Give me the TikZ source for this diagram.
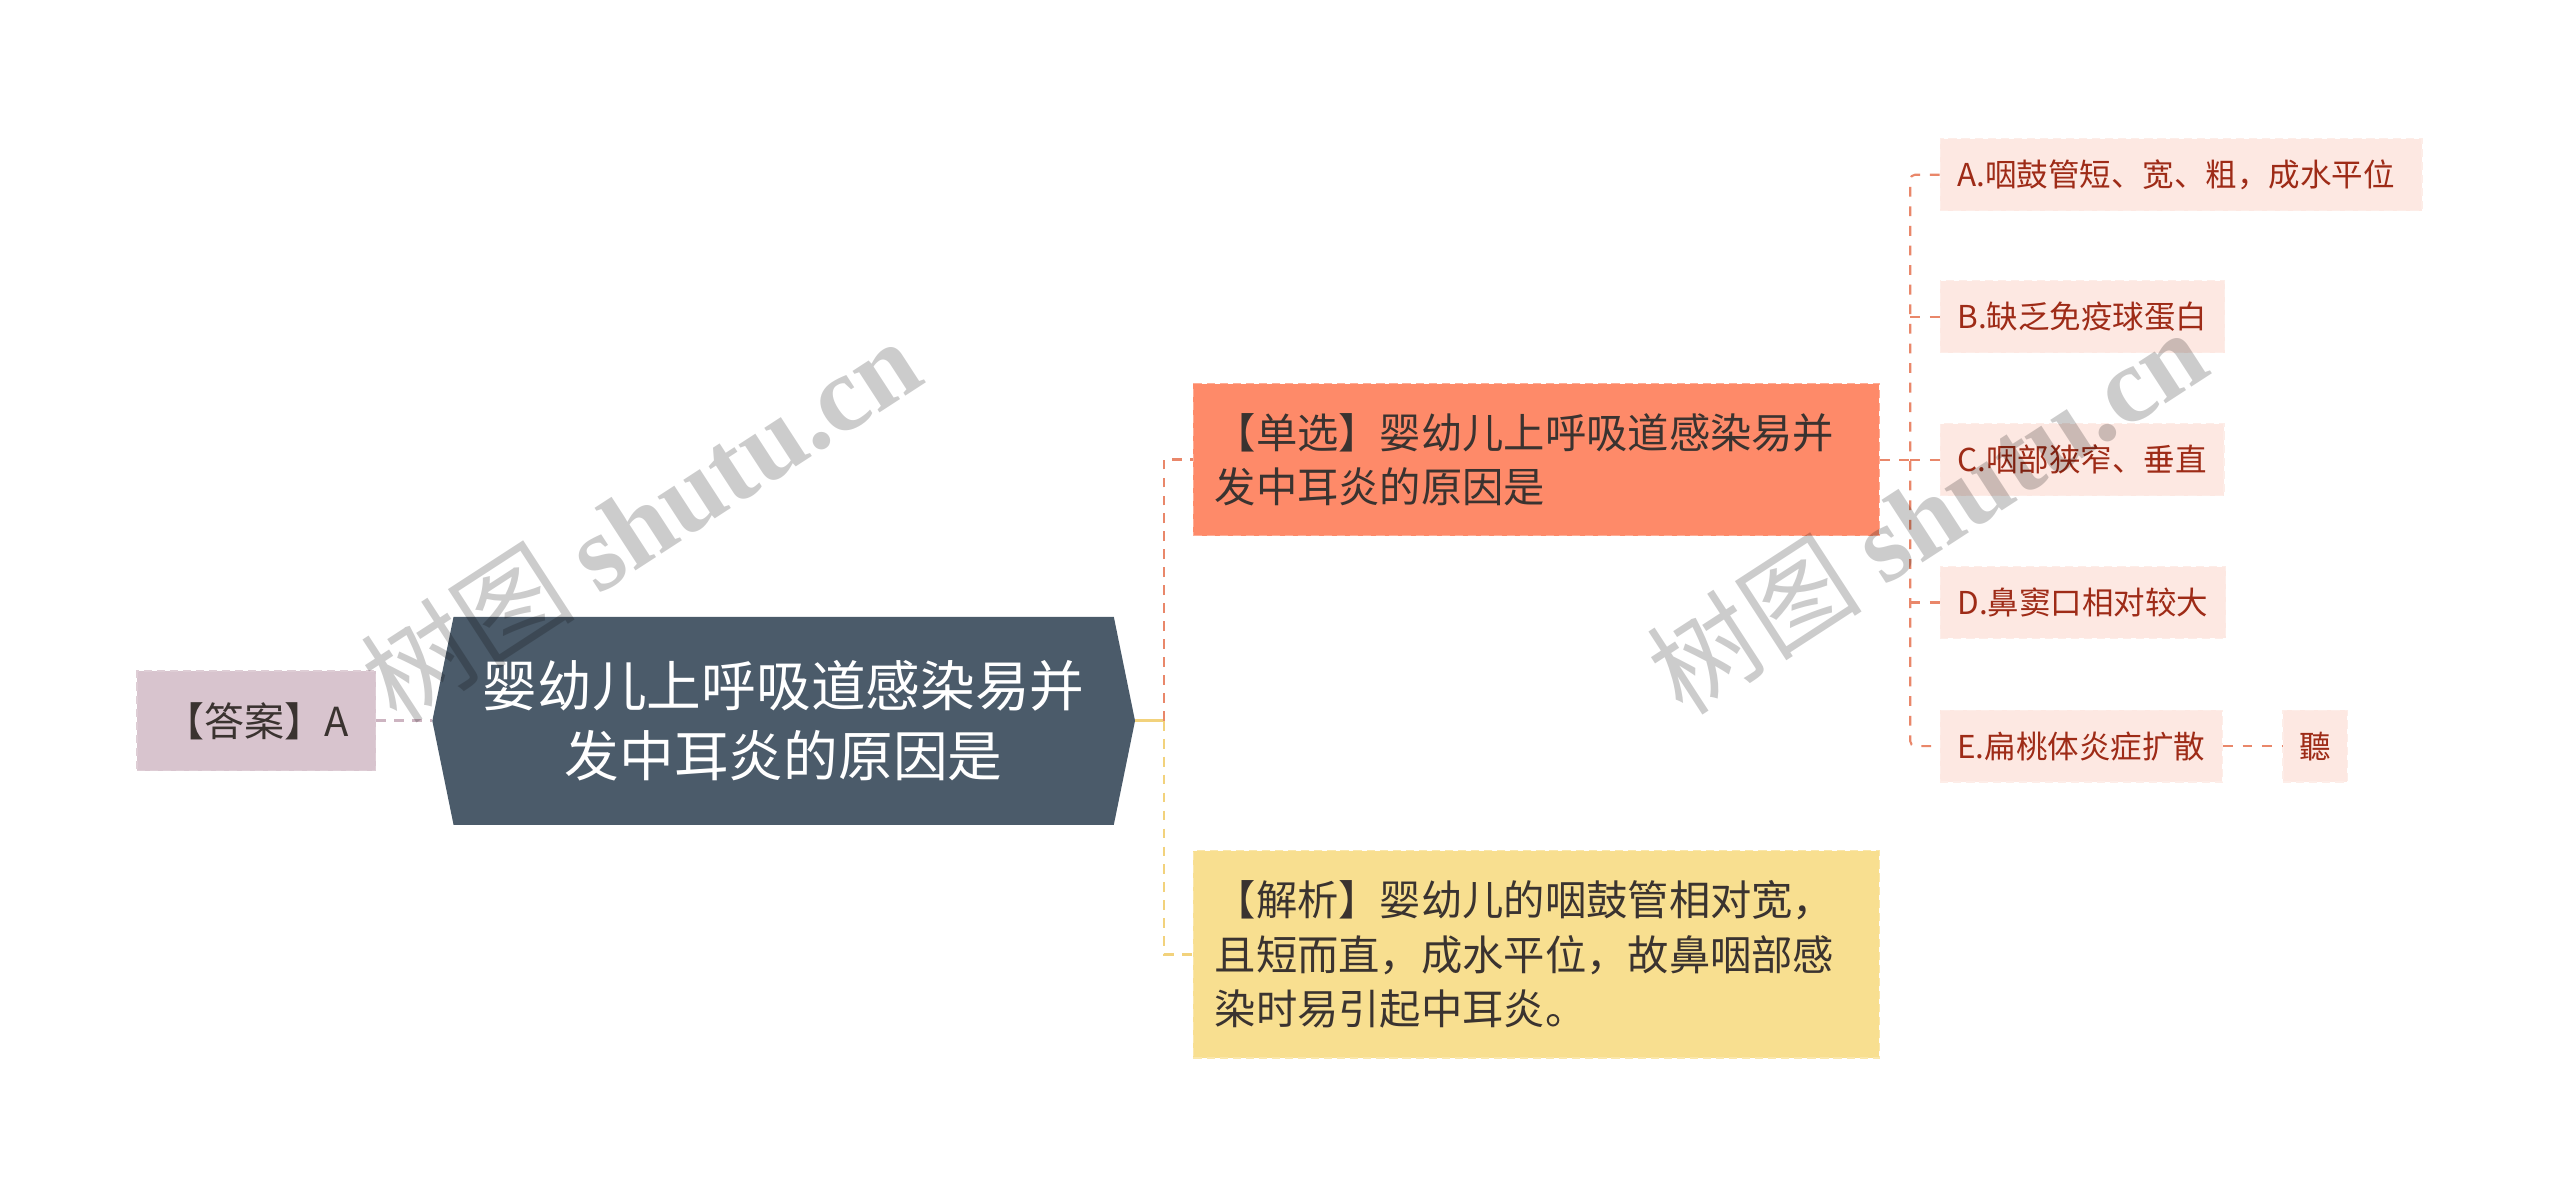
\documentclass[tikz,border=0pt]{standalone}
\usepackage{fontspec}
\newfontfamily\cjk{Noto Sans CJK SC}
\newfontfamily\wmserif{Liberation Serif}
\usetikzlibrary{backgrounds}
\definecolor{hubfill}{HTML}{4B5B6A}
\definecolor{ansfill}{HTML}{D8C4CE}
\definecolor{ansline}{HTML}{CDB4C1}
\definecolor{choicefill}{HTML}{FE8A69}
\definecolor{choiceline}{HTML}{E9876A}
\definecolor{anafill}{HTML}{F8DF90}
\definecolor{analine}{HTML}{F2D27C}
\definecolor{optfill}{HTML}{FDE8E2}
\definecolor{opttext}{HTML}{9E2B17}
\definecolor{darktext}{HTML}{3A3330}
\begin{document}
\begin{tikzpicture}[x=1pt,y=-1pt,
  boxbase/.style={rectangle, inner sep=0pt, dash pattern=on 5pt off 3pt, line width=0.8pt},
  ansbox/.style={boxbase, fill=ansfill, draw=ansfill!85!white, minimum width=146pt, minimum height=61pt,
    text=darktext, font=\cjk\fontsize{24.5}{30}\selectfont},
  hubtext/.style={rectangle, inner sep=0pt, minimum width=404pt, minimum height=127pt, align=center,
    text=white, font=\cjk\fontsize{33.5}{43}\selectfont},
  bigbox/.style={boxbase, minimum width=420pt, text width=394pt, align=left, text=darktext,
    font=\cjk\fontsize{25.3}{33.5}\selectfont},
  choicebox/.style={bigbox, fill=choicefill, draw=choicefill!70!white, minimum height=93pt},
  anabox/.style={bigbox, fill=anafill, draw=anafill!75!white, minimum height=127pt},
  optbox/.style={boxbase, fill=optfill, draw=optfill!80!white, minimum height=44pt, inner xsep=10.5pt,
    anchor=west, text=opttext, font=\cjk\fontsize{19.3}{22}\selectfont},
  conn/.style={line width=1.6pt, dash pattern=on 6pt off 5pt},
  ansconn/.style={conn, line width=2pt, draw=ansline},
  choiceconn/.style={conn, draw=choiceline},
  anaconn/.style={conn, draw=analine},
  optconn/.style={line width=1.3pt, dash pattern=on 6pt off 6pt, draw=choiceline},
  wmark/.style={text=black, text opacity=0.2, font=\cjk\fontsize{66}{68}\selectfont, rotate=33}
]
\useasboundingbox (0,0) rectangle (1568,733);

% nodes
\node[ansbox] (ans) at (157,441.5) {【答案】A};
\node[hubtext] (hub) at (480,441.5) {婴幼儿上呼吸道感染易并\\发中耳炎的原因是};
\coordinate (hubL) at ([xshift=-13pt]hub.west);
\coordinate (hubR) at ([xshift=13pt]hub.east);

\begin{pgfonlayer}{background}
  \fill[white] (0,0) rectangle (1568,733);
  \fill[hubfill] (hubL) -- (hub.north west) -- (hub.north east) -- (hubR)
     -- (hub.south east) -- (hub.south west) -- cycle;
\end{pgfonlayer}

\node[choicebox] (choice) at (941,281.5) {【单选】婴幼儿上呼吸道感染易并\\发中耳炎的原因是};
\node[anabox] (ana) at (941,584.5) {【解析】婴幼儿的咽鼓管相对宽，\\且短而直，成水平位，故鼻咽部感\\染时易引起中耳炎。};

\node[optbox, text width=274pt, align=left] (oA) at (1188,107) {A.咽鼓管短、宽、粗，成水平位};
\node[optbox] (oB) at (1188,194) {B.缺乏免疫球蛋白};
\node[optbox] (oC) at (1188,281.5) {C.咽部狭窄、垂直};
\node[optbox] (oD) at (1188,369) {D.鼻窦口相对较大};
\node[optbox] (oE) at (1188,457) {E.扁桃体炎症扩散};
\node[optbox, inner xsep=10pt] (oF) at (1398,457) {聽};

% connectors
\coordinate (j1) at (713,441.5);
\coordinate (j2) at (1170,281.5);
\draw[ansconn] (ans.east) -- (hubL);
\draw[line width=1.8pt, draw=analine] (hubR) -- (j1);
\draw[choiceconn] (j1) |- (choice.west);
\draw[anaconn] (j1) |- (ana.west);
\draw[optconn] (choice.east) -- (j2);
\draw[optconn, rounded corners=3pt] (oA.west) -| (j2) |- (oE.west);
\draw[optconn] (j2 |- oB.west) -- (oB.west);
\draw[optconn] (j2 |- oC.west) -- (oC.west);
\draw[optconn] (j2 |- oD.west) -- (oD.west);
\draw[optconn] (oE.east) -- (oF.west);

% watermarks
\node[wmark] (wm1) at (392,318) {树图 {\wmserif\bfseries shutu.cn}};
\node[wmark] (wm2) at (1180,313) {树图 {\wmserif\bfseries shutu.cn}};
\end{tikzpicture}
\end{document}
